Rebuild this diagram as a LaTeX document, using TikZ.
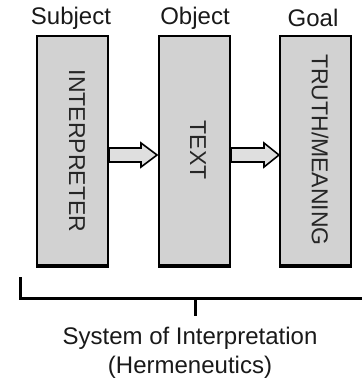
\documentclass[tikz,border=0pt]{standalone}
\usepackage{fontspec}
\setmainfont{Liberation Sans}
\begin{document}
\begin{tikzpicture}[x=1pt,y=-1pt,
  box/.style={draw=black,line width=2.2pt,fill=gray!35,inner sep=0pt},
  lbl/.style={font=\fontsize{24}{27}\selectfont,text=black!90,inner sep=0pt},
  vlbl/.style={font=\fontsize{23}{25}\selectfont,text=black!85,inner sep=0pt,rotate=-90},
  barr/.style={draw=black,line width=1.6pt,fill=gray!25,line join=miter},
  brk/.style={line width=3pt,draw=black}]
\useasboundingbox (0,0) rectangle (361,385);
% boxes
\path[box] (37,36) rectangle (108,267);
\path[box] (159,36) rectangle (230,267);
\path[box] (280,36) rectangle (351,267);
\draw[line width=3.5pt] (37,266) -- (108,266);
\draw[line width=3.5pt] (159,266) -- (230,266);
\draw[line width=3.5pt] (280,266) -- (351,266);
% titles
\node[lbl] (t1) at (71,18) {Subject};
\node[lbl] (t2) at (195,18) {Object};
\node[lbl] (t3) at (313,18) {Goal};
% vertical texts
\node[vlbl] (v1) at (77,151) {INTERPRETER};
\node[vlbl] (v2) at (198,150) {TEXT};
\node[vlbl] (v3) at (320,150) {TRUTH/MEANING};
% block arrows
\path[barr] (109,148) -- (141,148) -- (141,143) -- (157,155) -- (141,167) -- (141,162) -- (109,162) -- cycle;
\path[barr] (231,148) -- (264,148) -- (264,143) -- (279,155) -- (264,167) -- (264,162) -- (231,162) -- cycle;
% bracket
\coordinate (bl) at (20,278);
\coordinate (bc) at (195,298);
\coordinate (bb) at (195,316);
\draw[brk,line cap=rect] (bl) -- (20,298) -- (361,298);
\draw[brk] (bc) -- (bb);
% bottom text
\node[lbl] (s1) at (190,338) {System of Interpretation};
\node[lbl] (s2) at (190,367) {(Hermeneutics)};
\end{tikzpicture}
\end{document}
